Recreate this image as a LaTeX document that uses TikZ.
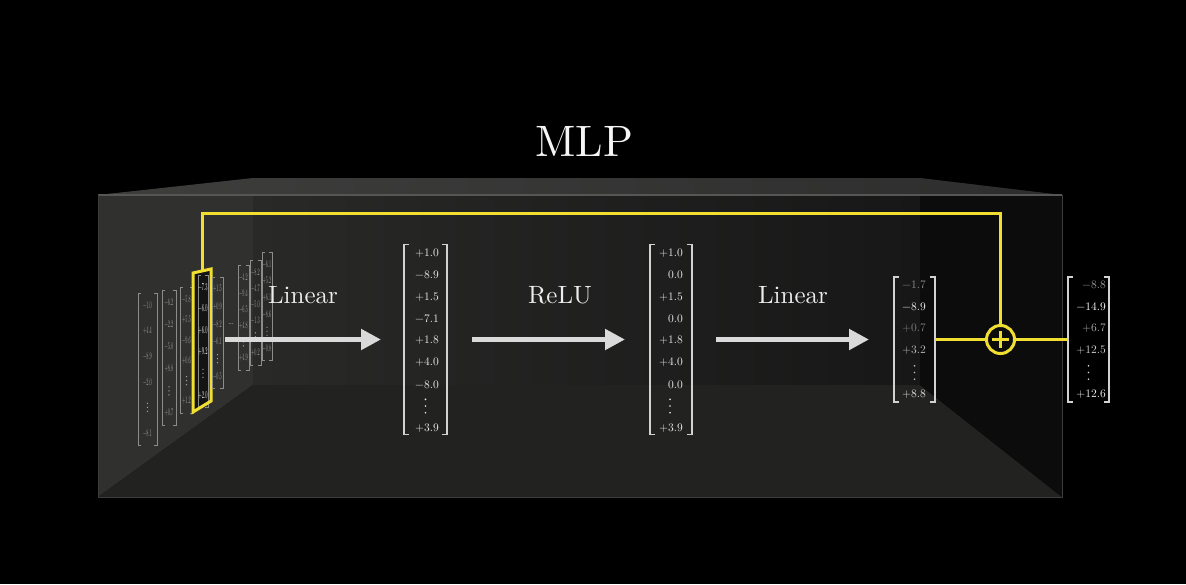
\documentclass[tikz,border=0pt]{standalone}
\usepackage{fontspec}
\setmainfont{lmroman10-regular}[Extension=.otf, BoldFont=lmroman10-bold]
\usetikzlibrary{arrows.meta}
\definecolor{ylw}{RGB}{240,222,48}
\definecolor{arrowgray}{RGB}{218,218,218}
\definecolor{numw}{RGB}{232,232,232}
\definecolor{brk}{RGB}{210,210,210}
\definecolor{wallnum}{RGB}{160,160,160}
\definecolor{wallbrk}{RGB}{140,140,140}
\definecolor{lwallc}{RGB}{48,49,47}
\definecolor{bwallL}{RGB}{41,42,40}
\definecolor{bwallR}{RGB}{22,23,22}
\definecolor{floorc}{RGB}{34,35,33}
\definecolor{rwallc}{RGB}{12,12,12}
\definecolor{topL}{RGB}{62,63,61}
\definecolor{topR}{RGB}{44,45,44}
\definecolor{edgec}{RGB}{86,87,85}
\definecolor{hifill}{RGB}{20,20,20}
\definecolor{ga}{RGB}{140,140,140}
\definecolor{gb}{RGB}{240,240,240}
\definecolor{gc}{RGB}{125,125,125}
\definecolor{gd}{RGB}{185,185,185}
\definecolor{ge}{RGB}{225,225,225}
\definecolor{gf}{RGB}{155,155,155}
\definecolor{gg}{RGB}{252,252,252}
\definecolor{gh}{RGB}{170,170,170}
\definecolor{gi}{RGB}{208,208,208}
\definecolor{gj}{RGB}{240,240,240}
\newcommand\wallcol[7][wallentry]{%
  \pgfmathsetmacro\wcx{(#3+#4)/2}%
  \pgfmathsetmacro\wcy{(#5+#6)/2}%
  \pgfmathsetmacro\wcd{(#6-#5-24)/5}%
  \node[wallframe, minimum width={(#4-#3)*1pt}, minimum height={(#6-#5)*1pt}] (#2) at (\wcx,\wcy) {};
  \draw[wallbr] ([xshift=3pt]#2.north west) -- (#2.north west) -- (#2.south west) -- ([xshift=3pt]#2.south west);
  \draw[wallbr] ([xshift=-3pt]#2.north east) -- (#2.north east) -- (#2.south east) -- ([xshift=-3pt]#2.south east);
  \foreach \ent [count=\i] in {#7} {%
    \pgfmathsetmacro\slot{\i<5 ? \i-1 : 5}%
    \node[#1] (#2-\i) at (\wcx,{#5+12+\slot*\wcd}) {\scalebox{0.42}[1]{\ent}};
  }%
  \foreach \k in {-1,0,1} \fill[wallnum] (\wcx,{#5+12+4*\wcd+\k*4}) circle (0.7pt);
}
\begin{document}
\begin{tikzpicture}[x=1pt,y=-1pt,
  yline/.style={draw=ylw, line width=3pt},
  bigarrow/.style={draw=arrowgray, line width=5pt, -{Triangle[length=20pt,width=20pt]}},
  vframe/.style={inner sep=0pt, outer sep=0pt, draw=none},
  brkline/.style={draw=brk, line width=1.4pt},
  vnum/.style={inner sep=0pt, anchor=east, font=\fontsize{11.5}{13}\selectfont, text=numw},
  dotc/.style={fill=numw},
  lbl/.style={font=\fontsize{25}{28}\selectfont, text=white!93!black},
  ttl/.style={font=\fontsize{44}{48}\selectfont, text=white!96!black},
  wallframe/.style={inner sep=0pt, outer sep=0pt, draw=none},
  wallbr/.style={draw=wallbrk, line width=0.8pt},
  wallentry/.style={inner sep=0pt, font=\fontsize{10}{10}\selectfont, text=wallnum},
  wallhi/.style={inner sep=0pt, font=\fontsize{10.5}{10}\selectfont, text=white},
]
\useasboundingbox (0,0) rectangle (1186,584);
\fill[black] (0,0) rectangle (1186,584);
% box
\fill[lwallc] (98,195) -- (253,180) -- (253,385) -- (98,497) -- cycle;
\shade[left color=bwallL, right color=bwallR] (253,178) rectangle (920,385);
\fill[floorc] (98,497) -- (253,385) -- (920,385) -- (1062,497) -- cycle;
\fill[rwallc] (920,178) -- (1062,195) -- (1062,497) -- (920,385) -- cycle;
\shade[left color=topL, right color=topR] (98,195) -- (253,178) -- (920,178) -- (1062,195) -- cycle;
\draw[edgec, line width=1.5pt] (98,195) -- (1062,195);
\draw[edgec!70!black, line width=1pt] (98,195) -- (98,497) -- (1062,497) -- (1062,195);
% title
\node[ttl] (mlp) at (584.5,141) {MLP};
% wall columns
\wallcol{c1}{138}{157}{293}{445}{−1.0,+4.4,−8.9,−2.0,−8.1}
\wallcol{c2}{162}{176}{290}{425}{−6.2,−2.2,−5.0,+8.8,+0.7}
\wallcol{c3}{180}{193}{287}{413}{−5.8,+5.5,−9.6,+0.6,+1.2}
\fill[hifill] (193,273) -- (211,269) -- (211,401) -- (193,412) -- cycle;
\wallcol[wallhi]{c4}{198}{208}{275}{407}{−7.3,−6.0,+6.0,+9.2,+2.0}
\draw[yline, line join=miter] (193,273) -- (211,269) -- (211,401) -- (193,412) -- cycle;
\coordinate (hltop) at (202,271);
\wallcol{c5}{212}{223}{277}{388}{+1.5,+0.9,−8.2,−6.1,−0.5}
\node[wallentry] (wdots) at (231,324) {\scalebox{0.8}[1]{\dots}};
\wallcol{c6}{238}{249}{265}{370}{−4.2,−9.4,−6.5,+4.8,+4.9}
\wallcol{c7}{250}{261}{260}{365}{−8.2,−4.7,−5.0,−1.3,+0.2}
\wallcol{c8}{262}{272}{252}{360}{−6.1,+5.2,+6.1,−8.6,−0.8}
% vector m2
\node[vframe, minimum width=43pt, minimum height=190pt] (m2) at (425.5,339.5) {};
\draw[brkline] ([xshift=5pt]m2.north west) -- (m2.north west) -- (m2.south west) -- ([xshift=5pt]m2.south west);
\draw[brkline] ([xshift=-5pt]m2.north east) -- (m2.north east) -- (m2.south east) -- ([xshift=-5pt]m2.south east);
\foreach \ent [count=\i] in {+1.0,−8.9,+1.5,−7.1,+1.8,+4.0,−8.0}
  \node[vnum] (m2-\i) at (439,{253+(\i-1)*21.9}) {\ent};
\foreach \k in {-1,0,1} \fill[dotc] (425.5,{406+\k*6.7}) circle (0.95pt);
\node[vnum] (m2-9) at (439,428.2) {+3.9};
% vector m3
\node[vframe, minimum width=42pt, minimum height=190pt] (m3) at (671,339.5) {};
\draw[brkline] ([xshift=5pt]m3.north west) -- (m3.north west) -- (m3.south west) -- ([xshift=5pt]m3.south west);
\draw[brkline] ([xshift=-5pt]m3.north east) -- (m3.north east) -- (m3.south east) -- ([xshift=-5pt]m3.south east);
\foreach \ent [count=\i] in {+1.0,0.0,+1.5,0.0,+1.8,+4.0,0.0}
  \node[vnum] (m3-\i) at (683,{253+(\i-1)*21.9}) {\ent};
\foreach \k in {-1,0,1} \fill[dotc] (670,{406+\k*6.7}) circle (0.95pt);
\node[vnum] (m3-9) at (683,428.2) {+3.9};
% vector m4
\node[vframe, minimum width=41pt, minimum height=125pt] (m4) at (914.5,339.5) {};
\draw[brkline] ([xshift=5pt]m4.north west) -- (m4.north west) -- (m4.south west) -- ([xshift=5pt]m4.south west);
\draw[brkline] ([xshift=-5pt]m4.north east) -- (m4.north east) -- (m4.south east) -- ([xshift=-5pt]m4.south east);
\foreach \ent/\cl [count=\i] in {−1.7/ga,−8.9/gb,+0.7/gc,+3.2/gd}
  \node[vnum, text=\cl] (m4-\i) at (926,{284.5+(\i-1)*22}) {\ent};
\foreach \k in {-1,0,1} \fill[gd] (914.5,{372.5+\k*6.7}) circle (0.95pt);
\node[vnum, text=ge] (m4-6) at (926,394.5) {+8.8};
% vector m5
\node[vframe, minimum width=41pt, minimum height=125pt] (m5) at (1088.5,339.5) {};
\draw[brkline] ([xshift=5pt]m5.north west) -- (m5.north west) -- (m5.south west) -- ([xshift=5pt]m5.south west);
\draw[brkline] ([xshift=-5pt]m5.north east) -- (m5.north east) -- (m5.south east) -- ([xshift=-5pt]m5.south east);
\foreach \ent/\cl [count=\i] in {−8.8/gf,−14.9/gg,+6.7/gh,+12.5/gi}
  \node[vnum, text=\cl] (m5-\i) at (1106,{284.5+(\i-1)*22}) {\ent};
\foreach \k in {-1,0,1} \fill[gi] (1088.5,{372.5+\k*6.7}) circle (0.95pt);
\node[vnum, text=gj] (m5-6) at (1106,394.5) {+12.6};
% labels
\node[lbl] (lin1) at (303,295.5) {Linear};
\node[lbl] (relu) at (560,295.5) {ReLU};
\node[lbl] (lin2) at (793,295.5) {Linear};
% arrows
\draw[bigarrow, shorten <=17pt, shorten >=23pt] (c4.east |- m2.west) -- (m2.west);
\draw[bigarrow, shorten <=25pt, shorten >=25pt] (m2.east) -- (m3.west);
\draw[bigarrow, shorten <=24pt, shorten >=25pt] (m3.east) -- (m4.west);
% residual
\node[circle, draw=ylw, line width=3pt, minimum size=28pt, inner sep=0pt] (plus) at (1000.5,339.5) {};
\draw[ylw, line width=2.6pt] (plus.center) ++(-8.5,0) -- ++(17,0);
\draw[ylw, line width=2.6pt] (plus.center) ++(0,-8.5) -- ++(0,17);
\coordinate (ytop) at (600,213.5);
\draw[yline, line join=miter] (hltop) -- (hltop |- ytop) -| (plus.north);
\draw[yline] (m4.east) -- (plus.west);
\draw[yline] (plus.east) -- (m5.west);
\end{tikzpicture}
\end{document}
